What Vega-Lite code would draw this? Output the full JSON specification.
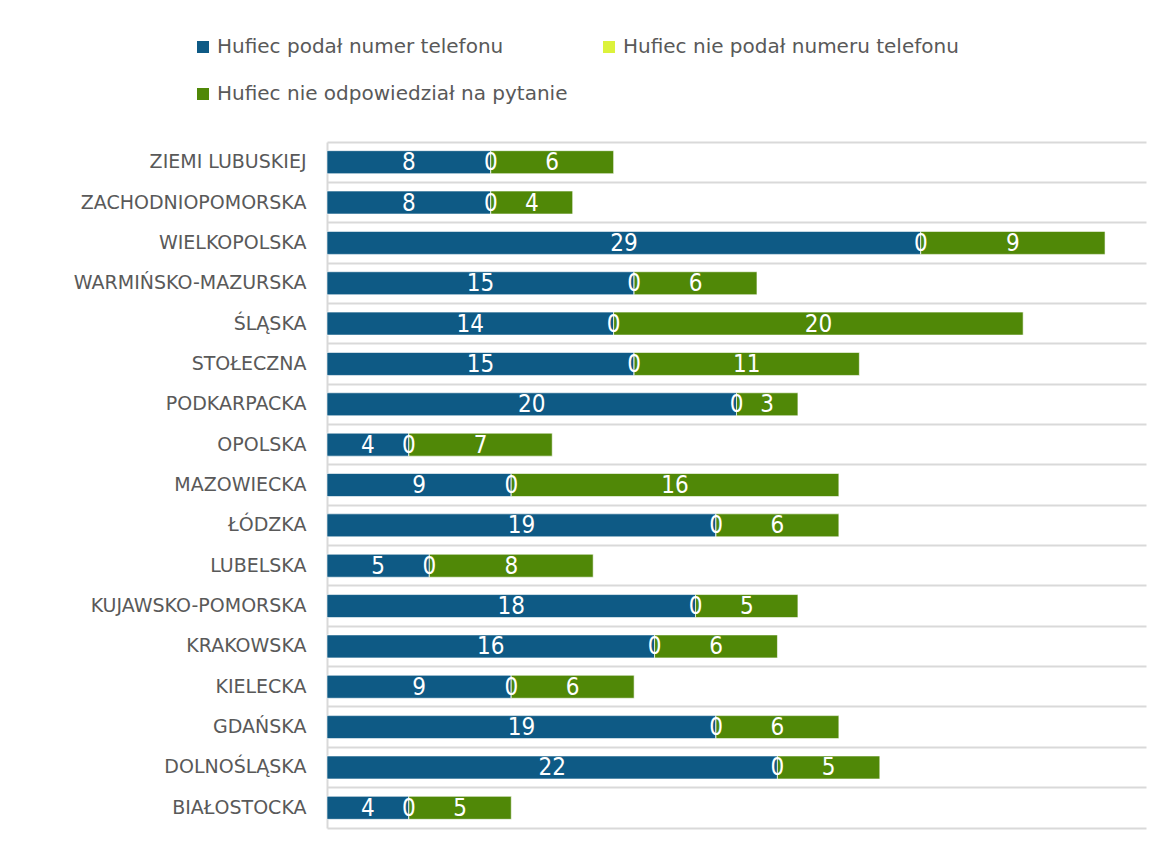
{
  "$schema": "https://vega.github.io/schema/vega-lite/v6.json",
  "autosize": {"type": "none"},
  "padding": {"left": 327, "top": 142, "right": 16, "bottom": 20},
  "width": 819,
  "height": 686,
  "background": "white",
  "config": {"view": {"stroke": null}, "font": "DejaVu Sans"},
  "data": {"values": [
    {"region": "ZIEMI LUBUSKIEJ", "category": "Hufiec podał numer telefonu", "count": 8},
    {"region": "ZIEMI LUBUSKIEJ", "category": "Hufiec nie podał numeru telefonu", "count": 0},
    {"region": "ZIEMI LUBUSKIEJ", "category": "Hufiec nie odpowiedział na pytanie", "count": 6},
    {"region": "ZACHODNIOPOMORSKA", "category": "Hufiec podał numer telefonu", "count": 8},
    {"region": "ZACHODNIOPOMORSKA", "category": "Hufiec nie podał numeru telefonu", "count": 0},
    {"region": "ZACHODNIOPOMORSKA", "category": "Hufiec nie odpowiedział na pytanie", "count": 4},
    {"region": "WIELKOPOLSKA", "category": "Hufiec podał numer telefonu", "count": 29},
    {"region": "WIELKOPOLSKA", "category": "Hufiec nie podał numeru telefonu", "count": 0},
    {"region": "WIELKOPOLSKA", "category": "Hufiec nie odpowiedział na pytanie", "count": 9},
    {"region": "WARMIŃSKO-MAZURSKA", "category": "Hufiec podał numer telefonu", "count": 15},
    {"region": "WARMIŃSKO-MAZURSKA", "category": "Hufiec nie podał numeru telefonu", "count": 0},
    {"region": "WARMIŃSKO-MAZURSKA", "category": "Hufiec nie odpowiedział na pytanie", "count": 6},
    {"region": "ŚLĄSKA", "category": "Hufiec podał numer telefonu", "count": 14},
    {"region": "ŚLĄSKA", "category": "Hufiec nie podał numeru telefonu", "count": 0},
    {"region": "ŚLĄSKA", "category": "Hufiec nie odpowiedział na pytanie", "count": 20},
    {"region": "STOŁECZNA", "category": "Hufiec podał numer telefonu", "count": 15},
    {"region": "STOŁECZNA", "category": "Hufiec nie podał numeru telefonu", "count": 0},
    {"region": "STOŁECZNA", "category": "Hufiec nie odpowiedział na pytanie", "count": 11},
    {"region": "PODKARPACKA", "category": "Hufiec podał numer telefonu", "count": 20},
    {"region": "PODKARPACKA", "category": "Hufiec nie podał numeru telefonu", "count": 0},
    {"region": "PODKARPACKA", "category": "Hufiec nie odpowiedział na pytanie", "count": 3},
    {"region": "OPOLSKA", "category": "Hufiec podał numer telefonu", "count": 4},
    {"region": "OPOLSKA", "category": "Hufiec nie podał numeru telefonu", "count": 0},
    {"region": "OPOLSKA", "category": "Hufiec nie odpowiedział na pytanie", "count": 7},
    {"region": "MAZOWIECKA", "category": "Hufiec podał numer telefonu", "count": 9},
    {"region": "MAZOWIECKA", "category": "Hufiec nie podał numeru telefonu", "count": 0},
    {"region": "MAZOWIECKA", "category": "Hufiec nie odpowiedział na pytanie", "count": 16},
    {"region": "ŁÓDZKA", "category": "Hufiec podał numer telefonu", "count": 19},
    {"region": "ŁÓDZKA", "category": "Hufiec nie podał numeru telefonu", "count": 0},
    {"region": "ŁÓDZKA", "category": "Hufiec nie odpowiedział na pytanie", "count": 6},
    {"region": "LUBELSKA", "category": "Hufiec podał numer telefonu", "count": 5},
    {"region": "LUBELSKA", "category": "Hufiec nie podał numeru telefonu", "count": 0},
    {"region": "LUBELSKA", "category": "Hufiec nie odpowiedział na pytanie", "count": 8},
    {"region": "KUJAWSKO-POMORSKA", "category": "Hufiec podał numer telefonu", "count": 18},
    {"region": "KUJAWSKO-POMORSKA", "category": "Hufiec nie podał numeru telefonu", "count": 0},
    {"region": "KUJAWSKO-POMORSKA", "category": "Hufiec nie odpowiedział na pytanie", "count": 5},
    {"region": "KRAKOWSKA", "category": "Hufiec podał numer telefonu", "count": 16},
    {"region": "KRAKOWSKA", "category": "Hufiec nie podał numeru telefonu", "count": 0},
    {"region": "KRAKOWSKA", "category": "Hufiec nie odpowiedział na pytanie", "count": 6},
    {"region": "KIELECKA", "category": "Hufiec podał numer telefonu", "count": 9},
    {"region": "KIELECKA", "category": "Hufiec nie podał numeru telefonu", "count": 0},
    {"region": "KIELECKA", "category": "Hufiec nie odpowiedział na pytanie", "count": 6},
    {"region": "GDAŃSKA", "category": "Hufiec podał numer telefonu", "count": 19},
    {"region": "GDAŃSKA", "category": "Hufiec nie podał numeru telefonu", "count": 0},
    {"region": "GDAŃSKA", "category": "Hufiec nie odpowiedział na pytanie", "count": 6},
    {"region": "DOLNOŚLĄSKA", "category": "Hufiec podał numer telefonu", "count": 22},
    {"region": "DOLNOŚLĄSKA", "category": "Hufiec nie podał numeru telefonu", "count": 0},
    {"region": "DOLNOŚLĄSKA", "category": "Hufiec nie odpowiedział na pytanie", "count": 5},
    {"region": "BIAŁOSTOCKA", "category": "Hufiec podał numer telefonu", "count": 4},
    {"region": "BIAŁOSTOCKA", "category": "Hufiec nie podał numeru telefonu", "count": 0},
    {"region": "BIAŁOSTOCKA", "category": "Hufiec nie odpowiedział na pytanie", "count": 5}
  ]},
  "encoding": {
    "y": {
      "field": "region",
      "type": "nominal",
      "sort": ["ZIEMI LUBUSKIEJ", "ZACHODNIOPOMORSKA", "WIELKOPOLSKA", "WARMIŃSKO-MAZURSKA", "ŚLĄSKA", "STOŁECZNA", "PODKARPACKA", "OPOLSKA", "MAZOWIECKA", "ŁÓDZKA", "LUBELSKA", "KUJAWSKO-POMORSKA", "KRAKOWSKA", "KIELECKA", "GDAŃSKA", "DOLNOŚLĄSKA", "BIAŁOSTOCKA"],
      "scale": {"paddingInner": 0, "paddingOuter": 0},
      "axis": {
        "title": null,
        "ticks": false,
        "labelPadding": 21,
        "labelFontSize": 19,
        "labelColor": "#595959",
        "labelFont": "DejaVu Sans",
        "labelLimit": 400,
        "domainColor": "#d9d9d9",
        "domainWidth": 2,
        "grid": true,
        "gridColor": "#d9d9d9",
        "gridWidth": 2,
        "bandPosition": 0
      }
    }
  },
  "layer": [
    {
      "mark": {"type": "bar", "height": {"band": 0.57}, "stroke": "white", "strokeWidth": 0.6},
      "encoding": {
        "x": {
          "field": "count",
          "type": "quantitative",
          "stack": "zero",
          "scale": {"domain": [0, 40]},
          "axis": {"title": null, "labels": false, "ticks": false, "grid": false, "domainColor": "#d9d9d9", "domainWidth": 2}
        },
        "order": {"field": "category", "sort": "descending"},
        "color": {
          "field": "category",
          "type": "nominal",
          "sort": ["Hufiec podał numer telefonu", "Hufiec nie podał numeru telefonu", "Hufiec nie odpowiedział na pytanie"],
          "scale": {
            "domain": ["Hufiec podał numer telefonu", "Hufiec nie podał numeru telefonu", "Hufiec nie odpowiedział na pytanie"],
            "range": ["#0e5a85", "#dcf23b", "#508807"]
          },
          "legend": {
            "orient": "none",
            "legendX": -134,
            "legendY": -105,
            "columns": 2,
            "direction": "horizontal",
            "title": null,
            "padding": 0,
            "symbolType": "square",
            "symbolSize": 144,
            "symbolStrokeWidth": 0,
            "labelFontSize": 20,
            "labelFont": "DejaVu Sans",
            "labelColor": "#595959",
            "labelOffset": 4,
            "labelLimit": 600,
            "columnPadding": 31,
            "rowPadding": 27
          }
        }
      }
    },
    {
      "mark": {"type": "text", "font": "Liberation Sans Narrow, DejaVu Sans Condensed, sans-serif", "fontSize": 24, "color": "white", "baseline": "middle", "dy": 1},
      "encoding": {
        "x": {"field": "count", "type": "quantitative", "stack": "zero", "bandPosition": 0.5},
        "detail": {"field": "category"},
        "order": {"field": "category", "sort": "descending"},
        "text": {"field": "count", "type": "quantitative"}
      }
    }
  ]
}
